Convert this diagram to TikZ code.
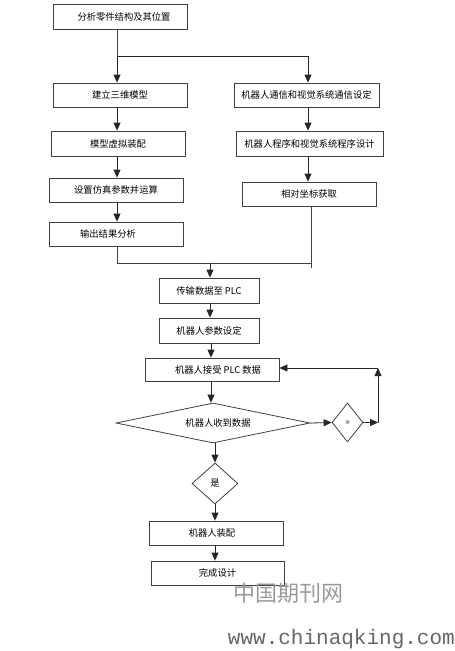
\documentclass[tikz,border=0pt]{standalone}
\usepackage{fontspec}
\setmainfont{Noto Sans CJK SC}
\newfontfamily\wmmono{Liberation Mono}
\usetikzlibrary{shapes.geometric,arrows.meta}
\tikzset{
  box/.style={draw=black!75, line width=0.8pt, minimum width=134pt, minimum height=24pt, inner sep=0pt, font=\fontsize{9.3}{10}\selectfont},
  dia/.style={draw=black!75, line width=0.8pt, shape=diamond, inner sep=0pt, font=\fontsize{9.3}{10}\selectfont},
  arr/.style={line width=0.8pt, draw=black!85, -{Triangle[length=8pt,width=7pt]}},
  ln/.style={line width=0.8pt, draw=black!75},
  wm/.style={text=black!40}
}
\begin{document}
\begin{tikzpicture}[x=1pt,y=-1pt]
\useasboundingbox (0,0) rectangle (455,651);
% left column
\node[box, minimum height=25pt] (a) at (120,16.5) {\hspace*{8pt}分析零件结构及其位置};
\node[box] (b) at (120,95) {建立三维模型};
\node[box, minimum height=25pt] (d) at (118,143.5) {模型虚拟装配};
\node[box] (f) at (116,190) {设置仿真参数并运算};
\node[box] (h) at (116,234) {\hspace*{-16pt}输出结果分析};
% right column
\node[box, minimum width=145pt] (c) at (306.5,95) {机器人通信和视觉系统通信设定};
\node[box, minimum width=147pt, minimum height=25pt] (e) at (309.5,143.5) {机器人程序和视觉系统程序设计};
\node[box] (g) at (309,194) {相对坐标获取};
% center column
\node[box, minimum width=100pt, minimum height=25pt] (i) at (209,290.5) {传输数据至 PLC};
\node[box, minimum width=100pt, minimum height=25pt] (j) at (209,330.5) {机器人参数设定};
\node[box, minimum height=23pt] (k) at (212,369.5) {\hspace*{12pt}机器人接受 PLC 数据};
\node[dia, minimum width=194pt, minimum height=40pt, shape aspect=4.8] (l) at (213,423) {\hspace*{10pt}机器人收到数据};
\node[dia, minimum width=31pt, minimum height=39pt, shape aspect=0.8] (m) at (347.5,422.5) {\rotatebox{-90}{\fontsize{4}{4}\selectfont 否}};
\node[dia, minimum width=46pt, minimum height=41pt, shape aspect=1.1] (n) at (215,483.5) {是};
\node[box] (o) at (216,533) {\hspace*{-8pt}机器人装配};
\node[box, minimum width=133pt] (p) at (217.5,573) {完成设计};
% junctions
\coordinate (j1) at (117,56);
\coordinate (j2) at (117,263);
\coordinate (j3) at (311,263);
\coordinate (j3b) at (311,268);
\coordinate (j4) at (210,263);
\coordinate (r1) at (378,422.5);
\coordinate (r2) at (378,368);
\coordinate (xr) at (308,0);
% connectors
\draw[ln] (a.south -| j1) -- (j1);
\draw[arr] (j1) -- (j1 |- b.north);
\draw[arr] (j1) -| (xr |- c.north);
\draw[arr] (b.south -| j1) -- (d.north -| j1);
\draw[arr] (d.south -| j1) -- (f.north -| j1);
\draw[arr] (f.south -| j1) -- (h.north -| j1);
\draw[arr] (c.south -| xr) -- (e.north -| xr);
\draw[arr] (e.south -| xr) -- (g.north -| xr);
\draw[ln] (h.south -| j2) -- (j2) -- (j3);
\draw[ln] (g.south -| j3) -- (j3b);
\draw[arr] (j4) -- (j4 |- i.north);
\draw[arr] (i.south -| j4) -- (j.north -| j4);
\draw[arr] ([xshift=1pt]j.south -| j4) -- ([xshift=1pt]k.north -| j4);
\draw[arr] ([xshift=-1pt]k.south) -- ([xshift=-1pt]k.south |- l.north);
\draw[arr] (l.east) -- (m.west);
\draw[arr] (m.east) -- (r1);
\draw[arr] (r1) -- (r2);
\draw[arr] (r2) -- (k.east |- r2);
\draw[arr] (l.south -| n.north) -- (n.north);
\draw[arr] (n.south) -- (n.south |- o.north);
\draw[arr] (o.south -| n.south) -- (n.south |- p.north);
% watermark
\node[wm, font=\fontsize{22}{22}\selectfont, inner sep=0pt] (w1) at (288,593) {中国期刊网};
\node[wm, text=black!60, font=\wmmono\fontsize{21}{21}\selectfont, inner sep=0pt, anchor=east] (w2) at (455,639) {www.chinaqking.com};
\end{tikzpicture}
\end{document}
